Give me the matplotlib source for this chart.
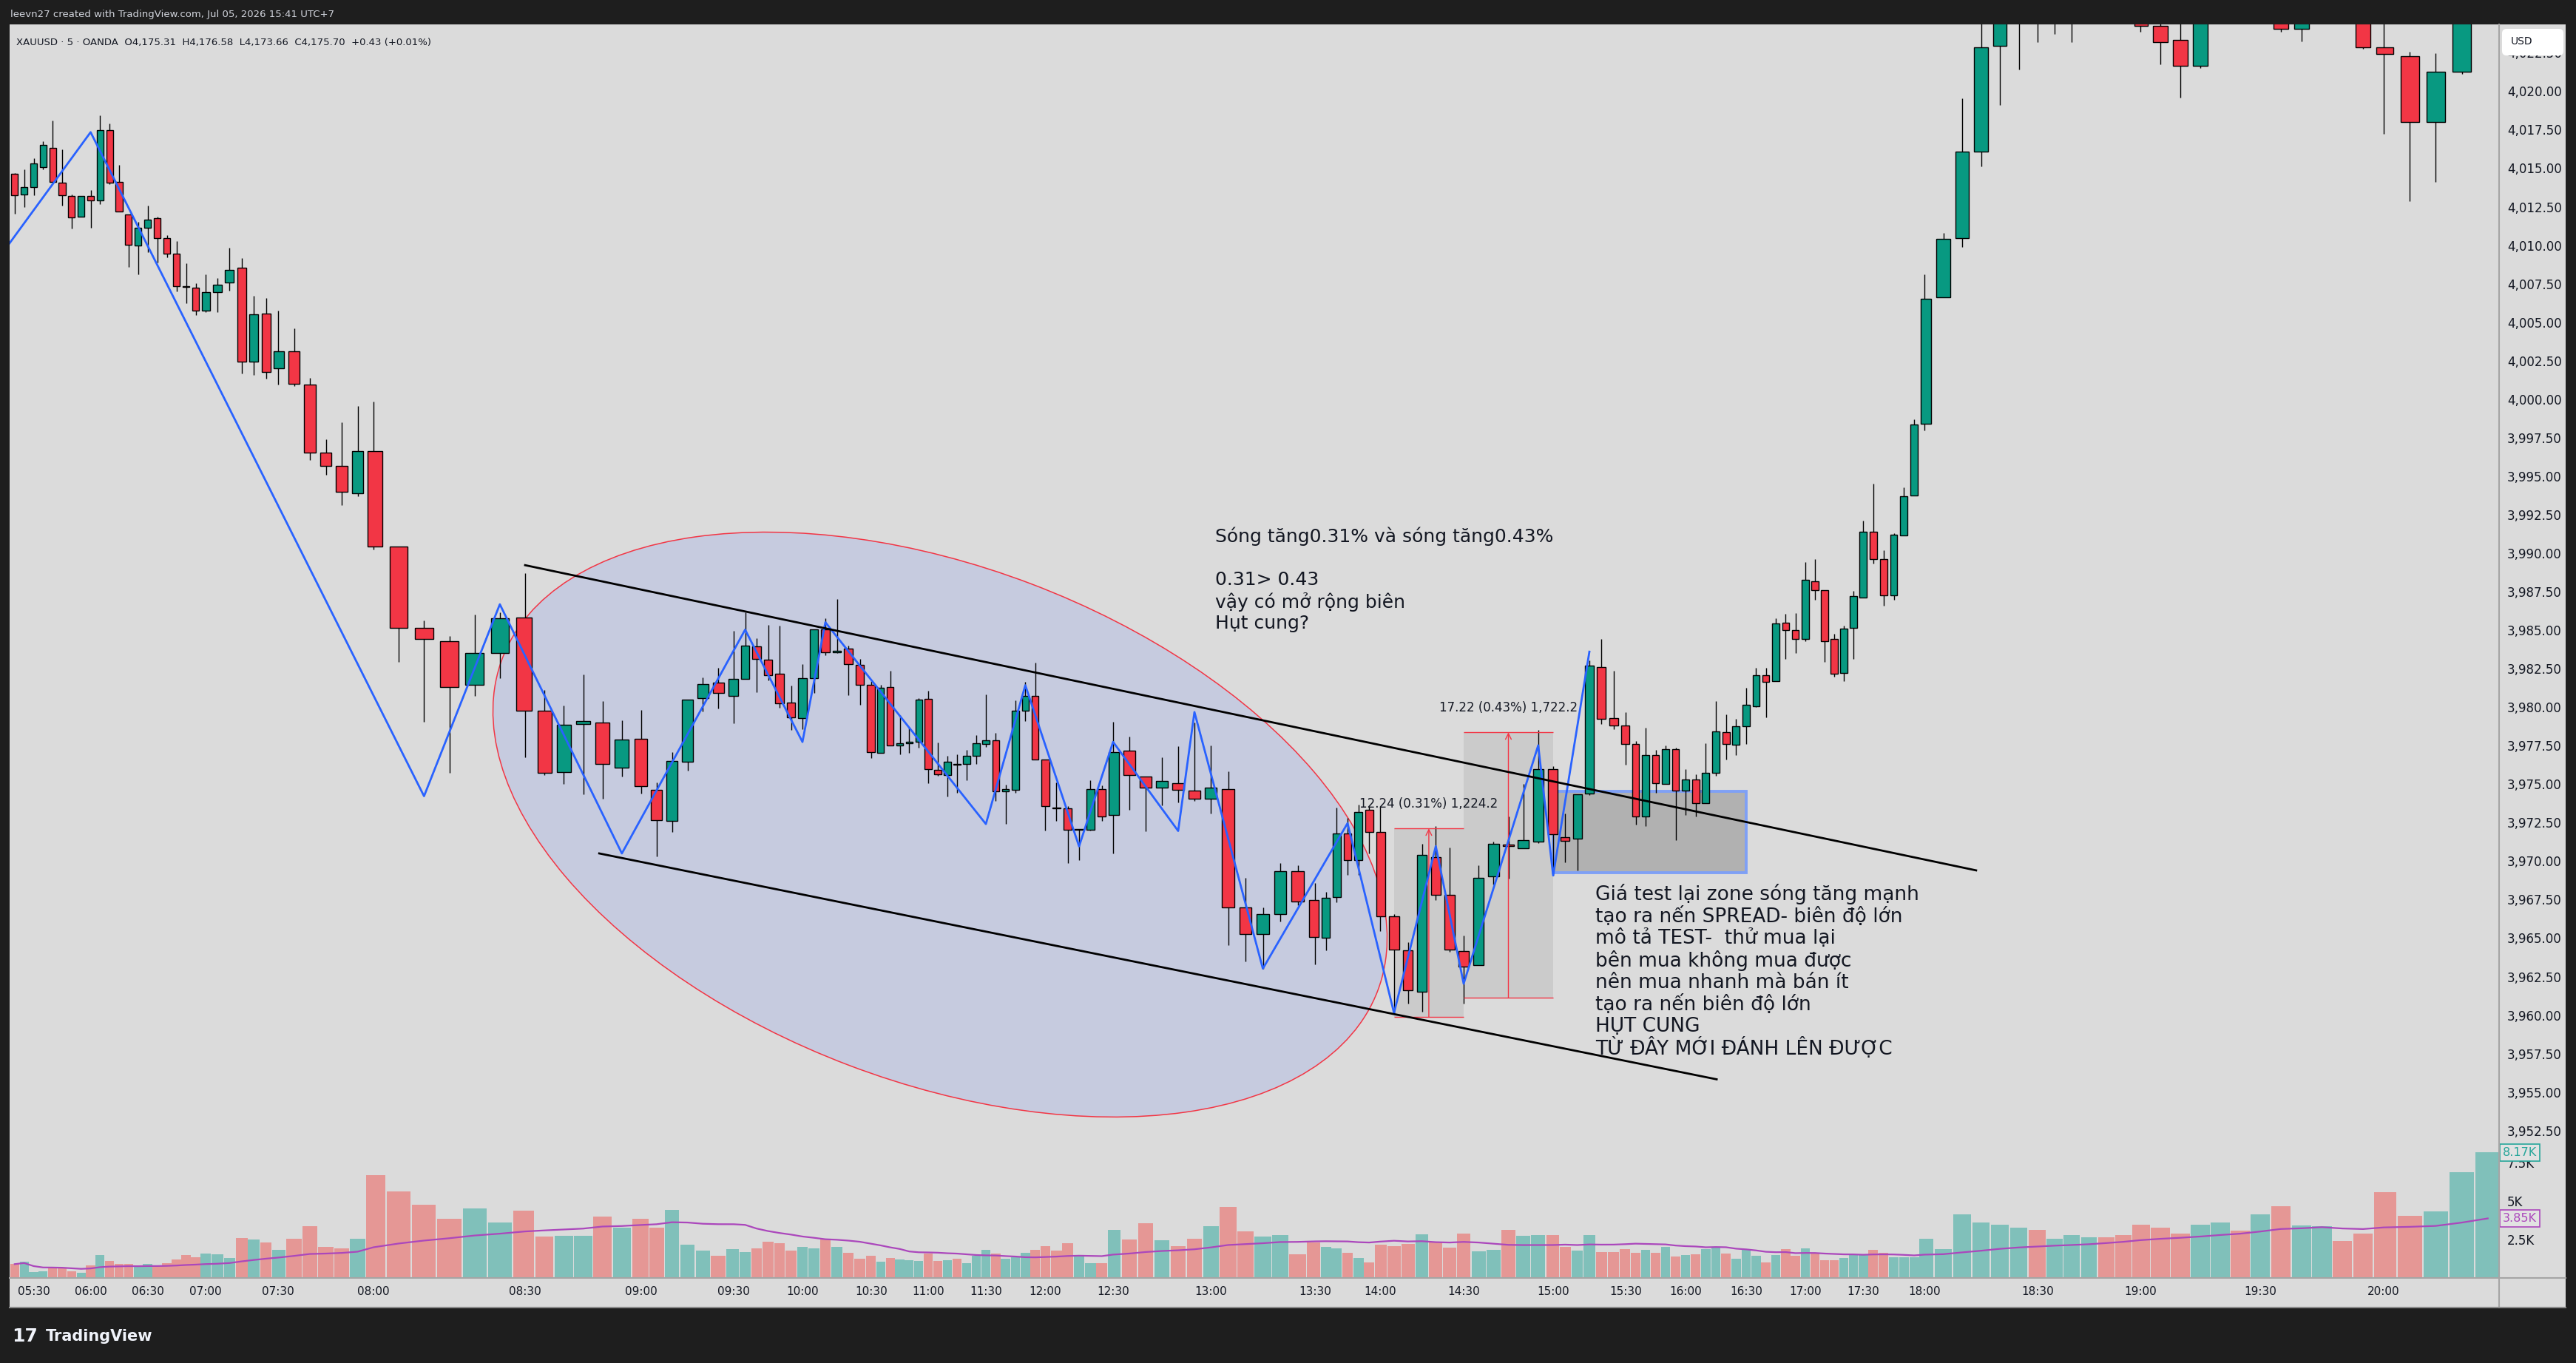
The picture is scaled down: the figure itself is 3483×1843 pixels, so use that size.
import numpy as np
import pandas as pd
import matplotlib
matplotlib.use("Agg")
import matplotlib.pyplot as plt
from matplotlib.patches import Ellipse, Rectangle, FancyBboxPatch
from matplotlib.lines import Line2D
from matplotlib.transforms import IdentityTransform

plt.rcParams['font.family'] = ['DejaVu Sans']

# ---------------- data (XAUUSD 5m, 05:20 -> 20:20) ----------------
opens = [4014.65, 4013.27, 4013.76, 4015.05, 4016.30, 4014.04, 4013.21, 4011.83, 4013.21, 4012.90,
         4017.46, 4014.13, 4011.98, 4009.96, 4011.13, 4011.77, 4010.48, 4009.47, 4007.30, 4007.24,
         4005.77, 4006.93, 4007.57, 4008.52, 4002.43, 4005.58, 4002.00, 4003.13, 4000.96, 3996.51,
         3995.69, 3993.91, 3996.64, 3990.45, 3985.15, 3984.30, 3981.45, 3983.50, 3985.82, 3979.76,
         3975.77, 3978.89, 3978.99, 3976.09, 3977.93, 3974.62, 3972.60, 3976.44, 3980.58, 3981.58,
         3980.72, 3981.82, 3983.94, 3983.10, 3982.19, 3980.29, 3979.28, 3981.87, 3985.07, 3983.55,
         3983.78, 3982.74, 3981.47, 3977.02, 3981.30, 3977.50, 3977.64, 3977.74, 3980.53, 3975.92,
         3975.58, 3976.30, 3976.32, 3976.83, 3977.61, 3977.84, 3974.52, 3974.62, 3979.76, 3980.72,
         3976.59, 3973.50, 3973.42, 3972.05, 3972.05, 3974.70, 3973.02, 3977.16, 3975.51, 3974.77,
         3975.05, 3974.60, 3974.05, 3974.70, 3967.00, 3965.25, 3966.54, 3969.33, 3967.47, 3965.03,
         3967.65, 3971.79, 3970.05, 3973.33, 3971.87, 3966.41, 3964.19, 3961.53, 3970.28, 3967.83,
         3964.17, 3963.27, 3968.99, 3971.08, 3970.85, 3971.29, 3975.99, 3971.55, 3971.44, 3974.38,
         3982.59, 3979.28, 3978.79, 3977.59, 3972.88, 3976.91, 3975.01, 3977.25, 3974.57, 3975.28,
         3973.76, 3975.75, 3978.37, 3977.54, 3978.75, 3980.08, 3982.08, 3981.68, 3985.50, 3984.98,
         3984.44, 3988.19, 3987.58, 3984.44, 3982.24, 3985.13, 3987.14, 3991.39, 3989.60, 3987.28,
         3991.17, 3993.73, 3998.42, 4006.64, 4010.44, 4016.07, 4022.96, 4026.00, 4027.00, 4026.20,
         4027.50, 4028.20, 4028.80, 4027.90, 4026.60, 4024.23, 4023.32, 4021.66, 4025.60, 4026.40,
         4025.60, 4026.80, 4024.06, 4025.80, 4026.50, 4025.70, 4022.85, 4022.27, 4017.99, 4021.25, 4025.80]
highs = [4014.71, 4014.95, 4015.63, 4016.73, 4018.11, 4016.24, 4013.27, 4013.18, 4013.57, 4018.45,
         4017.89, 4015.20, 4011.98, 4011.52, 4012.56, 4011.83, 4010.67, 4010.27, 4008.83, 4007.54,
         4008.09, 4007.85, 4009.84, 4009.16, 4006.71, 4006.56, 4005.77, 4004.60, 4001.39, 3997.40,
         3998.50, 3999.55, 3999.85, 3990.45, 3985.64, 3984.63, 3986.01, 3986.16, 3988.70, 3981.10,
         3980.11, 3982.10, 3980.37, 3979.15, 3979.82, 3975.10, 3977.08, 3980.48, 3981.94, 3982.55,
         3984.96, 3986.18, 3984.47, 3985.33, 3985.30, 3981.39, 3982.78, 3985.07, 3985.75, 3987.03,
         3983.99, 3983.14, 3981.71, 3981.46, 3982.35, 3979.50, 3978.70, 3980.58, 3981.07, 3977.71,
         3976.84, 3976.92, 3977.23, 3978.19, 3980.83, 3978.32, 3974.97, 3980.43, 3981.63, 3982.90,
         3976.59, 3975.10, 3973.55, 3972.10, 3975.25, 3974.91, 3979.04, 3978.08, 3975.51, 3976.74,
         3977.46, 3979.01, 3977.52, 3975.82, 3968.90, 3966.97, 3969.88, 3969.71, 3968.60, 3968.00,
         3973.50, 3972.82, 3973.67, 3973.55, 3973.54, 3966.56, 3964.75, 3971.12, 3972.30, 3970.87,
         3965.15, 3969.73, 3971.29, 3972.92, 3975.01, 3978.53, 3976.19, 3973.11, 3974.33, 3983.03,
         3984.45, 3982.38, 3979.67, 3977.80, 3978.66, 3977.23, 3977.50, 3977.35, 3975.96, 3975.64,
         3977.65, 3980.37, 3979.51, 3979.23, 3981.26, 3982.55, 3982.55, 3985.78, 3986.07, 3986.12,
         3989.40, 3989.63, 3987.60, 3984.77, 3985.27, 3987.53, 3992.11, 3994.51, 3990.18, 3991.28,
         3994.26, 3998.70, 4008.10, 4010.80, 4019.54, 4024.60, 4026.80, 4027.50, 4028.00, 4028.30,
         4029.00, 4029.50, 4029.60, 4028.50, 4027.00, 4025.20, 4025.00, 4026.20, 4027.00, 4027.00,
         4027.40, 4027.20, 4026.50, 4027.00, 4027.00, 4026.10, 4025.20, 4022.54, 4022.49, 4026.50, 4029.20]
lows = [4012.04, 4012.50, 4013.24, 4014.95, 4014.04, 4012.56, 4011.06, 4011.83, 4011.13, 4012.66,
        4013.97, 4012.17, 4008.58, 4008.09, 4009.56, 4008.89, 4009.23, 4006.99, 4006.23, 4005.46,
        4005.64, 4005.67, 4007.05, 4001.66, 4001.57, 4001.32, 4000.93, 4000.87, 3996.05, 3995.11,
        3993.11, 3993.70, 3990.24, 3982.94, 3979.06, 3975.72, 3980.74, 3981.87, 3976.73, 3975.60,
        3975.02, 3974.35, 3974.03, 3975.50, 3974.41, 3970.33, 3971.91, 3975.90, 3979.74, 3979.93,
        3978.93, 3981.82, 3980.99, 3981.74, 3979.98, 3978.51, 3978.59, 3980.94, 3983.39, 3983.50,
        3980.78, 3980.17, 3976.70, 3977.02, 3977.50, 3976.94, 3977.05, 3977.39, 3975.07, 3975.53,
        3974.22, 3974.46, 3975.23, 3976.33, 3977.42, 3973.90, 3972.44, 3974.44, 3979.12, 3976.59,
        3971.98, 3972.59, 3969.88, 3970.07, 3972.00, 3972.59, 3970.52, 3973.33, 3971.96, 3973.64,
        3973.83, 3973.90, 3973.07, 3964.53, 3963.47, 3962.99, 3966.07, 3967.14, 3963.28, 3964.19,
        3967.31, 3969.11, 3969.11, 3970.52, 3965.47, 3960.14, 3960.75, 3960.23, 3967.45, 3964.09,
        3960.77, 3963.27, 3968.50, 3968.88, 3970.85, 3971.19, 3969.07, 3969.92, 3969.41, 3974.29,
        3978.91, 3978.56, 3976.28, 3972.39, 3972.30, 3974.44, 3975.01, 3971.35, 3972.98, 3972.90,
        3973.76, 3975.52, 3976.59, 3976.89, 3977.61, 3979.99, 3979.32, 3981.68, 3983.12, 3983.50,
        3984.30, 3986.98, 3982.93, 3981.96, 3981.70, 3983.15, 3987.14, 3989.32, 3986.57, 3986.98,
        3991.17, 3993.73, 3997.95, 4006.64, 4009.86, 4015.10, 4019.10, 4021.40, 4023.20, 4023.70,
        4023.20, 4026.00, 4026.50, 4024.80, 4023.87, 4021.74, 4019.59, 4021.50, 4024.80, 4024.90,
        4024.90, 4023.87, 4023.23, 4024.90, 4024.80, 4022.77, 4017.25, 4012.84, 4014.13, 4021.10, 4025.00]
closes = [4013.24, 4013.79, 4015.32, 4016.49, 4014.10, 4013.24, 4011.80, 4013.18, 4012.90, 4017.46,
          4014.04, 4012.17, 4010.05, 4011.13, 4011.68, 4010.48, 4009.47, 4007.33, 4007.28, 4005.77,
          4006.93, 4007.45, 4008.40, 4002.43, 4005.49, 4001.75, 4003.13, 4000.99, 3996.51, 3995.66,
          3994.00, 3996.61, 3990.45, 3985.15, 3984.42, 3981.29, 3983.50, 3985.79, 3979.79, 3975.72,
          3978.85, 3979.09, 3976.30, 3977.88, 3974.86, 3972.65, 3976.49, 3980.48, 3981.49, 3980.91,
          3981.82, 3983.99, 3983.12, 3982.06, 3980.24, 3979.33, 3981.86, 3985.07, 3983.55, 3983.65,
          3982.78, 3981.44, 3977.07, 3981.25, 3977.50, 3977.64, 3977.74, 3980.48, 3975.96, 3975.63,
          3976.44, 3976.26, 3976.83, 3977.64, 3977.84, 3974.52, 3974.67, 3979.76, 3980.72, 3976.59,
          3973.58, 3973.42, 3972.05, 3972.08, 3974.70, 3972.88, 3977.10, 3975.58, 3974.77, 3975.20,
          3974.62, 3974.05, 3974.75, 3967.00, 3965.25, 3966.54, 3969.33, 3967.40, 3965.06, 3967.60,
          3971.79, 3970.05, 3973.21, 3971.87, 3966.40, 3964.24, 3961.60, 3970.38, 3967.83, 3964.24,
          3963.14, 3968.93, 3971.10, 3971.00, 3971.35, 3975.96, 3971.74, 3971.31, 3974.33, 3982.72,
          3979.23, 3978.79, 3977.61, 3972.88, 3976.91, 3975.07, 3977.25, 3974.57, 3975.31, 3973.76,
          3975.75, 3978.41, 3977.61, 3978.75, 3980.14, 3982.08, 3981.64, 3985.46, 3984.98, 3984.45,
          3988.25, 3987.58, 3984.28, 3982.18, 3985.08, 3987.20, 3991.39, 3989.60, 3987.26, 3991.20,
          3993.71, 3998.37, 4006.50, 4010.41, 4016.07, 4022.85, 4026.00, 4027.00, 4026.20, 4027.50,
          4028.20, 4028.80, 4027.90, 4026.60, 4024.23, 4023.18, 4021.66, 4025.60, 4026.40, 4025.60,
          4026.80, 4024.06, 4025.80, 4026.50, 4025.70, 4022.85, 4022.43, 4017.99, 4021.25, 4025.80, 4028.50]
# volume in thousands
volume = [0.90, 1.04, 0.37, 0.42, 0.66, 0.61, 0.42, 0.32, 0.82, 1.47,
          1.09, 0.93, 0.93, 0.71, 0.93, 0.79, 0.95, 1.19, 1.47, 1.33,
          1.57, 1.52, 1.28, 2.58, 2.48, 2.29, 1.81, 2.53, 3.35, 2.00,
          1.91, 2.53, 6.67, 5.61, 4.74, 3.83, 4.50, 3.59, 4.36, 2.68,
          2.72, 2.72, 3.97, 3.25, 3.83, 3.25, 4.41, 2.15, 1.76, 1.43,
          1.86, 1.67, 1.91, 2.34, 2.24, 1.76, 2.00, 1.91, 2.48, 2.00,
          1.62, 1.23, 1.43, 1.04, 1.28, 1.19, 1.14, 1.09, 1.57, 1.09,
          1.14, 1.23, 0.95, 1.43, 1.81, 1.57, 1.23, 1.33, 1.62, 1.81,
          2.05, 1.76, 2.24, 1.43, 0.95, 0.95, 3.11, 2.48, 3.54, 2.44,
          2.05, 2.53, 3.35, 4.60, 3.01, 2.68, 2.77, 1.52, 2.29, 2.00,
          1.91, 1.62, 1.28, 0.99, 2.15, 2.05, 2.20, 2.82, 2.29, 1.96,
          2.87, 1.71, 1.81, 3.11, 2.72, 2.77, 2.77, 2.00, 1.76, 2.77,
          1.67, 1.67, 1.86, 1.62, 1.81, 1.62, 2.00, 1.38, 1.47, 1.52,
          1.86, 2.00, 1.57, 1.23, 1.81, 1.43, 0.99, 1.47, 1.86, 1.43,
          1.91, 1.62, 1.14, 1.14, 1.28, 1.52, 1.52, 1.81, 1.62, 1.33,
          1.33, 1.33, 2.53, 1.86, 4.12, 3.59, 3.45, 3.25, 3.11, 2.53,
          2.77, 2.63, 2.63, 2.77, 3.45, 3.25, 2.87, 3.45, 3.59, 3.06,
          4.12, 4.65, 3.40, 3.35, 2.39, 2.87, 5.56, 4.02, 4.31, 6.86, 8.17]

time_labels = ['05:30', '06:00', '06:30', '07:00', '07:30', '08:00', '08:30', '09:00', '09:30', '10:00',
               '10:30', '11:00', '11:30', '12:00', '12:30', '13:00', '13:30', '14:00', '14:30', '15:00',
               '15:30', '16:00', '16:30', '17:00', '17:30', '18:00', '18:30', '19:00', '19:30', '20:00']

# zigzag drawn on the chart (time, price)
zz_times = ['05:15', '06:00', '08:10', '08:25', '08:55', '09:35', '10:00', '10:10', '11:30', '11:50',
            '12:15', '12:30', '12:50', '12:55', '13:15', '13:45', '14:05', '14:20', '14:30', '14:55',
            '15:00', '15:15']
zz_prices = [4009.74, 4017.34, 3974.22, 3986.68, 3970.50, 3985.03, 3977.74, 3985.51, 3972.41, 3981.42,
             3970.96, 3977.74, 3971.96, 3979.68, 3963.02, 3972.46, 3960.14, 3970.97, 3962.04, 3977.52,
             3969.07, 3983.60]

# channel lines
upper_line = (['08:30', '18:13:42'], [3989.22, 3969.40])
lower_line = (['08:49:09', '16:15:24'], [3970.50, 3955.83])

# ellipse: ends of the long axis, plus one point on the short edge
ellipse_pts = [('08:25:30', 3983.17), ('13:58:54', 3961.58), ('11:53:06', 3988.00)]

# price range measurements
ranges = [('14:05', '14:30', 3959.88, 3972.12, '12.24 (0.31%) 1,224.2'),
          ('14:30', '15:00', 3961.14, 3978.36, '17.22 (0.43%) 1,722.2')]
# retest zone
zone = ('15:00', '16:30', 3969.25, 3974.53)

note_top = ["Sóng tăng0.31% và sóng tăng0.43%", "", "0.31> 0.43", "vậy có mở rộng biên", "Hụt cung?"]
note_bottom = ["Giá test lại zone sóng tăng mạnh", "tạo ra nến SPREAD- biên độ lớn",
               "mô tả TEST-  thử mua lại", "bên mua không mua được", "nên mua nhanh mà bán ít",
               "tạo ra nến biên độ lớn", "HỤT CUNG", "TỪ ĐÂY MỚI ĐÁNH LÊN ĐƯỢC"]

# ---------------- helpers ----------------
W, H = 3483, 1843


def tm(s):
    p = [int(v) for v in s.split(':')]
    return p[0] * 60 + p[1] + (p[2] / 60.0 if len(p) > 2 else 0.0)


# screen positions of the time axis labels (the screenshot's time axis is not uniform)
scale_t = [tm('05:00')] + [tm(s) for s in time_labels] + [tm('20:30')]
scale_px = [-31.5, 45.5, 122.5, 199.5, 277.6, 376, 505, 710, 867, 992, 1085, 1178, 1255, 1333, 1413,
            1505, 1637, 1778, 1866, 1979, 2100, 2198, 2279, 2361, 2441, 2519, 2602, 2755, 2894, 3056, 3223, 3434]


def fwd(t):
    return np.interp(np.asarray(t, dtype=float), scale_t, scale_px)


def inv(p):
    return np.interp(np.asarray(p, dtype=float), scale_px, scale_t)


o = np.array(opens); h = np.array(highs); l = np.array(lows); c = np.array(closes)
vol = np.array(volume)
stamps = pd.date_range('2026-07-05 05:20', periods=len(o), freq='5min')
t = np.array(stamps.hour * 60 + stamps.minute, dtype=float)
up = c >= o
vol_ma = pd.Series(vol).rolling(20, min_periods=1).mean().values

GREEN, RED = '#089981', '#f23645'
TXT = '#131722'

# ---------------- figure ----------------
fig = plt.figure(figsize=(W / 100, H / 100), dpi=100, facecolor='#1e1e1e')
fig.add_artist(Rectangle((13, H - 1768), 3469 - 13, 1768 - 33, transform=IdentityTransform(),
                         fc='#dbdbdb', ec='none', zorder=-10))

ax = fig.add_axes([13 / W, (H - 1728) / H, (3379 - 13) / W, (1728 - 33) / H])
ax.set_xscale('function', functions=(fwd, inv))
ax.set_xlim(float(inv(13)), float(inv(3379)))
ax.set_ylim(3942.93, 4024.34)

axv = ax.twinx()
axv.set_ylim(0, (1728 - 33) / 20.8)
ax.set_zorder(axv.get_zorder() + 1)
ax.patch.set_visible(False)
axv.patch.set_visible(False)

# volume + MA
vcols = np.where(up, '#80c0ba', '#e59795')
axv.bar(t, vol, width=4.7, color=vcols, linewidth=0)
axv.plot(t, vol_ma, color='#ab47bc', lw=1.6)

# candles
ax.vlines(t, l, h, colors='black', lw=1.0, zorder=3)
ax.bar(t, np.maximum(np.abs(c - o), 0.05), bottom=np.minimum(o, c), width=3.6,
       color=np.where(up, GREEN, RED), edgecolor='black', linewidth=1.0, zorder=4)

# ellipse (drawn in screen space from its chart anchors)
pe = [ax.transData.transform((tm(s), p)) for s, p in ellipse_pts]
p1, p2, p3 = [np.array(v) for v in pe]
cen = (p1 + p2) / 2
d = p2 - p1
a = np.hypot(*d) / 2
u = d / np.hypot(*d)
v = p3 - cen
b = abs(u[0] * v[1] - u[1] * v[0])
ax.add_patch(Ellipse(cen, 2 * a, 2 * b, angle=np.degrees(np.arctan2(d[1], d[0])),
                     transform=IdentityTransform(), fc='#c6cbdf', ec=RED, lw=1.1, zorder=1))

# price range tools
for t0, t1, lo, hi, lab in ranges:
    x0, x1 = tm(t0), tm(t1)
    xm = (x0 + x1) / 2
    ax.add_patch(Rectangle((x0, lo), x1 - x0, hi - lo, fc=(0, 0, 0, 0.07), ec='none', zorder=1.5))
    ax.hlines([lo, hi], x0, x1, colors=RED, lw=1.0, zorder=5)
    ax.annotate('', xy=(xm, hi), xytext=(xm, lo),
                arrowprops=dict(arrowstyle='->', color=RED, lw=1.0, shrinkA=0, shrinkB=0,
                                mutation_scale=14), zorder=5)
    ax.annotate(lab, xy=(xm, hi), xytext=(0, 33), textcoords='offset pixels',
                ha='center', va='center', fontsize=12, color=TXT, zorder=8)

# retest zone
zx0, zx1 = tm(zone[0]), tm(zone[1])
ax.add_patch(Rectangle((zx0, zone[2]), zx1 - zx0, zone[3] - zone[2], fc=(0, 0, 0, 0.19),
                       ec='#7fa0f5', lw=2.8, zorder=2))

# zigzag + channel
ax.plot([tm(s) for s in zz_times], zz_prices, color='#2962ff', lw=2.0, zorder=6)
for ts, ps in (upper_line, lower_line):
    ax.plot([tm(s) for s in ts], ps, color='black', lw=2.0, zorder=6)

# notes
for i, line in enumerate(note_top):
    ax.annotate(line, xy=(tm('13:01:17'), 3991.10), xytext=(0, -29.5 * i), textcoords='offset pixels',
                ha='left', va='center', fontsize=18, color=TXT, zorder=8)
for i, line in enumerate(note_bottom):
    ax.annotate(line, xy=(tm('15:17:27'), 3967.84), xytext=(0, -29.8 * i), textcoords='offset pixels',
                ha='left', va='center', fontsize=19, color=TXT, zorder=8)

# axes / ticks
for a_ in (ax, axv):
    for sp in a_.spines.values():
        sp.set_visible(False)
ax.set_xticks([tm(s) for s in time_labels])
ax.set_xticklabels(time_labels)
ax.minorticks_off()
ax.tick_params(axis='x', length=0, pad=8, labelsize=11, labelcolor=TXT)
ax.yaxis.tick_right()
pt = np.arange(3952.5, 4023.0, 2.5)
ax.set_yticks(pt)
ax.set_yticklabels([f'{v:,.2f}' for v in pt])
ax.tick_params(axis='y', length=0, pad=8, labelsize=12, labelcolor=TXT)
axv.set_yticks([2.5, 5, 7.5])
axv.set_yticklabels(['2.5K', '5K', '7.5K'])
axv.tick_params(axis='y', length=0, pad=8, labelsize=12, labelcolor=TXT)

axv.annotate(f'{vol[-1]:.2f}K', xy=(1, vol[-1]), xycoords=('axes fraction', 'data'), xytext=(5, 0),
             textcoords='offset pixels', ha='left', va='center', fontsize=11.5, color='#26a69a',
             bbox=dict(boxstyle='square,pad=0.25', fc='#e2e2e2', ec='#26a69a', lw=1.2),
             annotation_clip=False)
axv.annotate('3.85K', xy=(1, vol_ma[-1]), xycoords=('axes fraction', 'data'), xytext=(5, 0),
             textcoords='offset pixels', ha='left', va='center', fontsize=11.5, color='#ab47bc',
             bbox=dict(boxstyle='square,pad=0.25', fc='#e2e2e2', ec='#ab47bc', lw=1.2),
             annotation_clip=False)

# pane separators
for xs, ys, col in (([3379, 3379], [H - 33, H - 1768], '#a5a5a5'),
                    ([13, 3469], [H - 1728, H - 1728], '#a5a5a5'),
                    ([13, 3469], [H - 1768, H - 1768], '#8a8a8a')):
    fig.add_artist(Line2D(xs, ys, transform=IdentityTransform(), color=col, lw=1.5))

# currency box (covers most of the top price label, as in the screenshot)
fig.add_artist(FancyBboxPatch((3383, H - 75), 83, 36, boxstyle='round,pad=0,rounding_size=6',
                              transform=IdentityTransform(), fc='white', ec='none', zorder=3))
fig.text(3395 / W, 1 - 56 / H, 'USD', fontsize=10, color=TXT, va='center', zorder=4)

# header lines
fig.text(14 / W, 1 - 19 / H, 'leevn27 created with TradingView.com, Jul 05, 2026 15:41 UTC+7',
         fontsize=9.5, color='#d1d4dc', va='center')
fig.text(22 / W, 1 - 57 / H,
         'XAUUSD · 5 · OANDA  O4,175.31  H4,176.58  L4,173.66  C4,175.70  +0.43 (+0.01%)',
         fontsize=9.5, color=TXT, va='center')

# footer logo
fig.text(16 / W, 1 - 1807 / H, '17', fontsize=18, fontweight='bold', color='#f0f3fa', va='center')
fig.text(62 / W, 1 - 1807 / H, 'TradingView', fontsize=15, fontweight='bold', color='#f0f3fa', va='center')

fig.savefig('out.png', dpi=100, facecolor=fig.get_facecolor())
